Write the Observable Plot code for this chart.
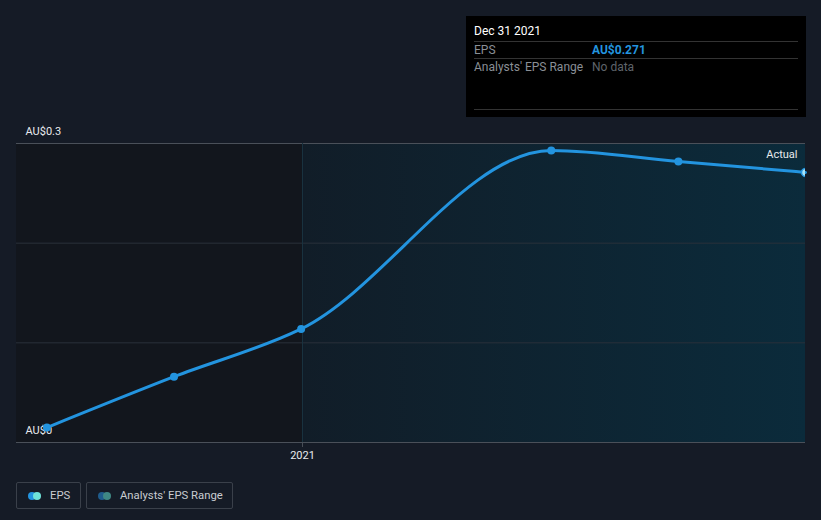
<!DOCTYPE html>
<html><head><meta charset="utf-8">
<script src="https://cdn.jsdelivr.net/npm/d3@7"></script>
<script src="https://cdn.jsdelivr.net/npm/@observablehq/plot@0.6"></script>
<style>
html,body{margin:0;padding:0;background:#151b26;font-family:Roboto,"Noto Sans",sans-serif;}
#wrap{position:relative;width:821px;height:520px;overflow:hidden;}
#chart{position:absolute;left:0;top:0;}
#tip{position:absolute;left:466px;top:16px;width:340px;height:101px;background:#000;color:#fff;font-size:12px;}
#tip .row{position:absolute;left:8px;right:8px;}
#tip .sep{position:absolute;left:8px;right:8px;height:1px;background:#333;}
#legend{position:absolute;left:16px;top:482px;display:flex;gap:5px;}
.lg{box-sizing:border-box;border:1px solid #3a404a;border-radius:2px;height:27px;display:flex;align-items:center;padding:0 0 0 11px;color:#c9ccd1;font-size:11.3px;white-space:nowrap;}
.ic{position:relative;width:13px;height:8px;margin-right:9px;}
.ic span{position:absolute;top:0;width:8px;height:8px;border-radius:50%;}
</style></head>
<body><div id="wrap"><div id="chart"></div>
<div id="tip">
 <div class="row" style="top:8px;font-size:12px;color:#fff">Dec 31 2021</div>
 <div class="sep" style="top:25px"></div>
 <div class="row" style="top:27px;color:#8a8f96">EPS<span style="position:absolute;left:118px;color:#2394df;font-weight:bold">AU$0.271</span></div>
 <div class="sep" style="top:42px"></div>
 <div class="row" style="top:44px;color:#8a8f96">Analysts' EPS Range<span style="position:absolute;left:118px;color:#5f646b">No data</span></div>
 <div class="sep" style="top:93px"></div>
</div>
<div id="legend">
 <div class="lg" style="width:65px"><div class="ic"><span style="left:0;background:#2394df"></span><span style="left:5px;background:#6fe3d9"></span></div>EPS</div>
 <div class="lg" style="width:147px"><div class="ic"><span style="left:0;background:#1f5c8c"></span><span style="left:5px;background:#3f8884"></span></div>Analysts' EPS Range</div>
</div>
</div>
<script>
const dates = ["2020-06-30","2020-09-30","2020-12-31","2021-06-30","2021-09-30","2021-12-31"];
const eps = [0.015, 0.066, 0.114, 0.293, 0.282, 0.271];
const yTicks = [0, 0.1, 0.2, 0.3];
const yTickLabels = ["AU$0", "", "", "AU$0.3"];
const xTicks = ["2021-01-01"];
const xTickLabels = ["2021"];

const data = dates.map((d, i) => ({date: new Date(d), eps: eps[i]}));
const x0 = new Date("2020-06-08"), x1 = new Date("2021-12-31"), split = new Date(xTicks[0]);
const xt = xTicks.map((d, i) => ({d: new Date(d), t: xTickLabels[i], lo: 0, hi: 0.3, tk: -0.005}));

const plot = Plot.plot({
  width: 821, height: 466,
  marginLeft: 16, marginRight: 16, marginTop: 143, marginBottom: 24,
  style: {background: "transparent", fontFamily: "Roboto, sans-serif", fontSize: "11px"},
  x: {type: "utc", domain: [x0, x1], axis: null},
  y: {type: "linear", domain: [0, 0.3], axis: null},
  marks: [
    Plot.rect([{a: x0, b: split, lo: 0, hi: 0.3}], {x1: "a", x2: "b", y1: "lo", y2: "hi", fill: "#12161d"}),
    Plot.rect([{a: split, b: x1, lo: 0, hi: 0.3}], {x1: "a", x2: "b", y1: "lo", y2: "hi", fill: "url(#shade)"}),
    Plot.ruleY(yTicks, {stroke: (d) => (d === 0 || d === 0.3) ? "#4a5059" : "#2a313b", strokeWidth: 1}),
    Plot.ruleX(xt, {x: "d", y1: "lo", y2: "hi", stroke: "#1a3340"}),
    Plot.ruleX(xt, {x: "d", y1: "lo", y2: "tk", stroke: "#4a5059"}),
    Plot.text(xt, {x: "d", y: "lo", text: "t", dy: 13, fill: "#e8eaed", fontSize: 11}),
    Plot.text(yTicks.map((v, i) => ({d: x0, v, t: yTickLabels[i]})).filter(d => d.t), {x: "d", y: "v", text: "t", textAnchor: "start", dx: 9, dy: -12, fill: "#e8eaed", fontSize: 11}),
    Plot.line(data, {x: "date", y: "eps", curve: "monotone-x", stroke: "#2394df", strokeWidth: 3}),
    Plot.dot(data.slice(0, -1), {x: "date", y: "eps", r: 4, fill: "#2394df"}),
    Plot.dot(data.slice(-1), {x: "date", y: "eps", r: 4, fill: "#a9e4f7", stroke: "#2394df", strokeWidth: 1.5, clip: true}),
    Plot.text([{d: x1, v: 0.3, t: "Actual"}], {x: "d", y: "v", text: "t", textAnchor: "end", dx: -8, dy: 11, fill: "#e8eaed", fontSize: 11})
  ]
});
const ns = "http://www.w3.org/2000/svg";
const defs = document.createElementNS(ns, "defs");
defs.innerHTML = '<linearGradient id="shade" x1="0" x2="1" y1="0" y2="0"><stop offset="0" stop-color="#111d28"/><stop offset="1" stop-color="#0b2b3b"/></linearGradient>';
plot.insertBefore(defs, plot.firstChild);
document.getElementById("chart").appendChild(plot);
</script>
</body></html>
